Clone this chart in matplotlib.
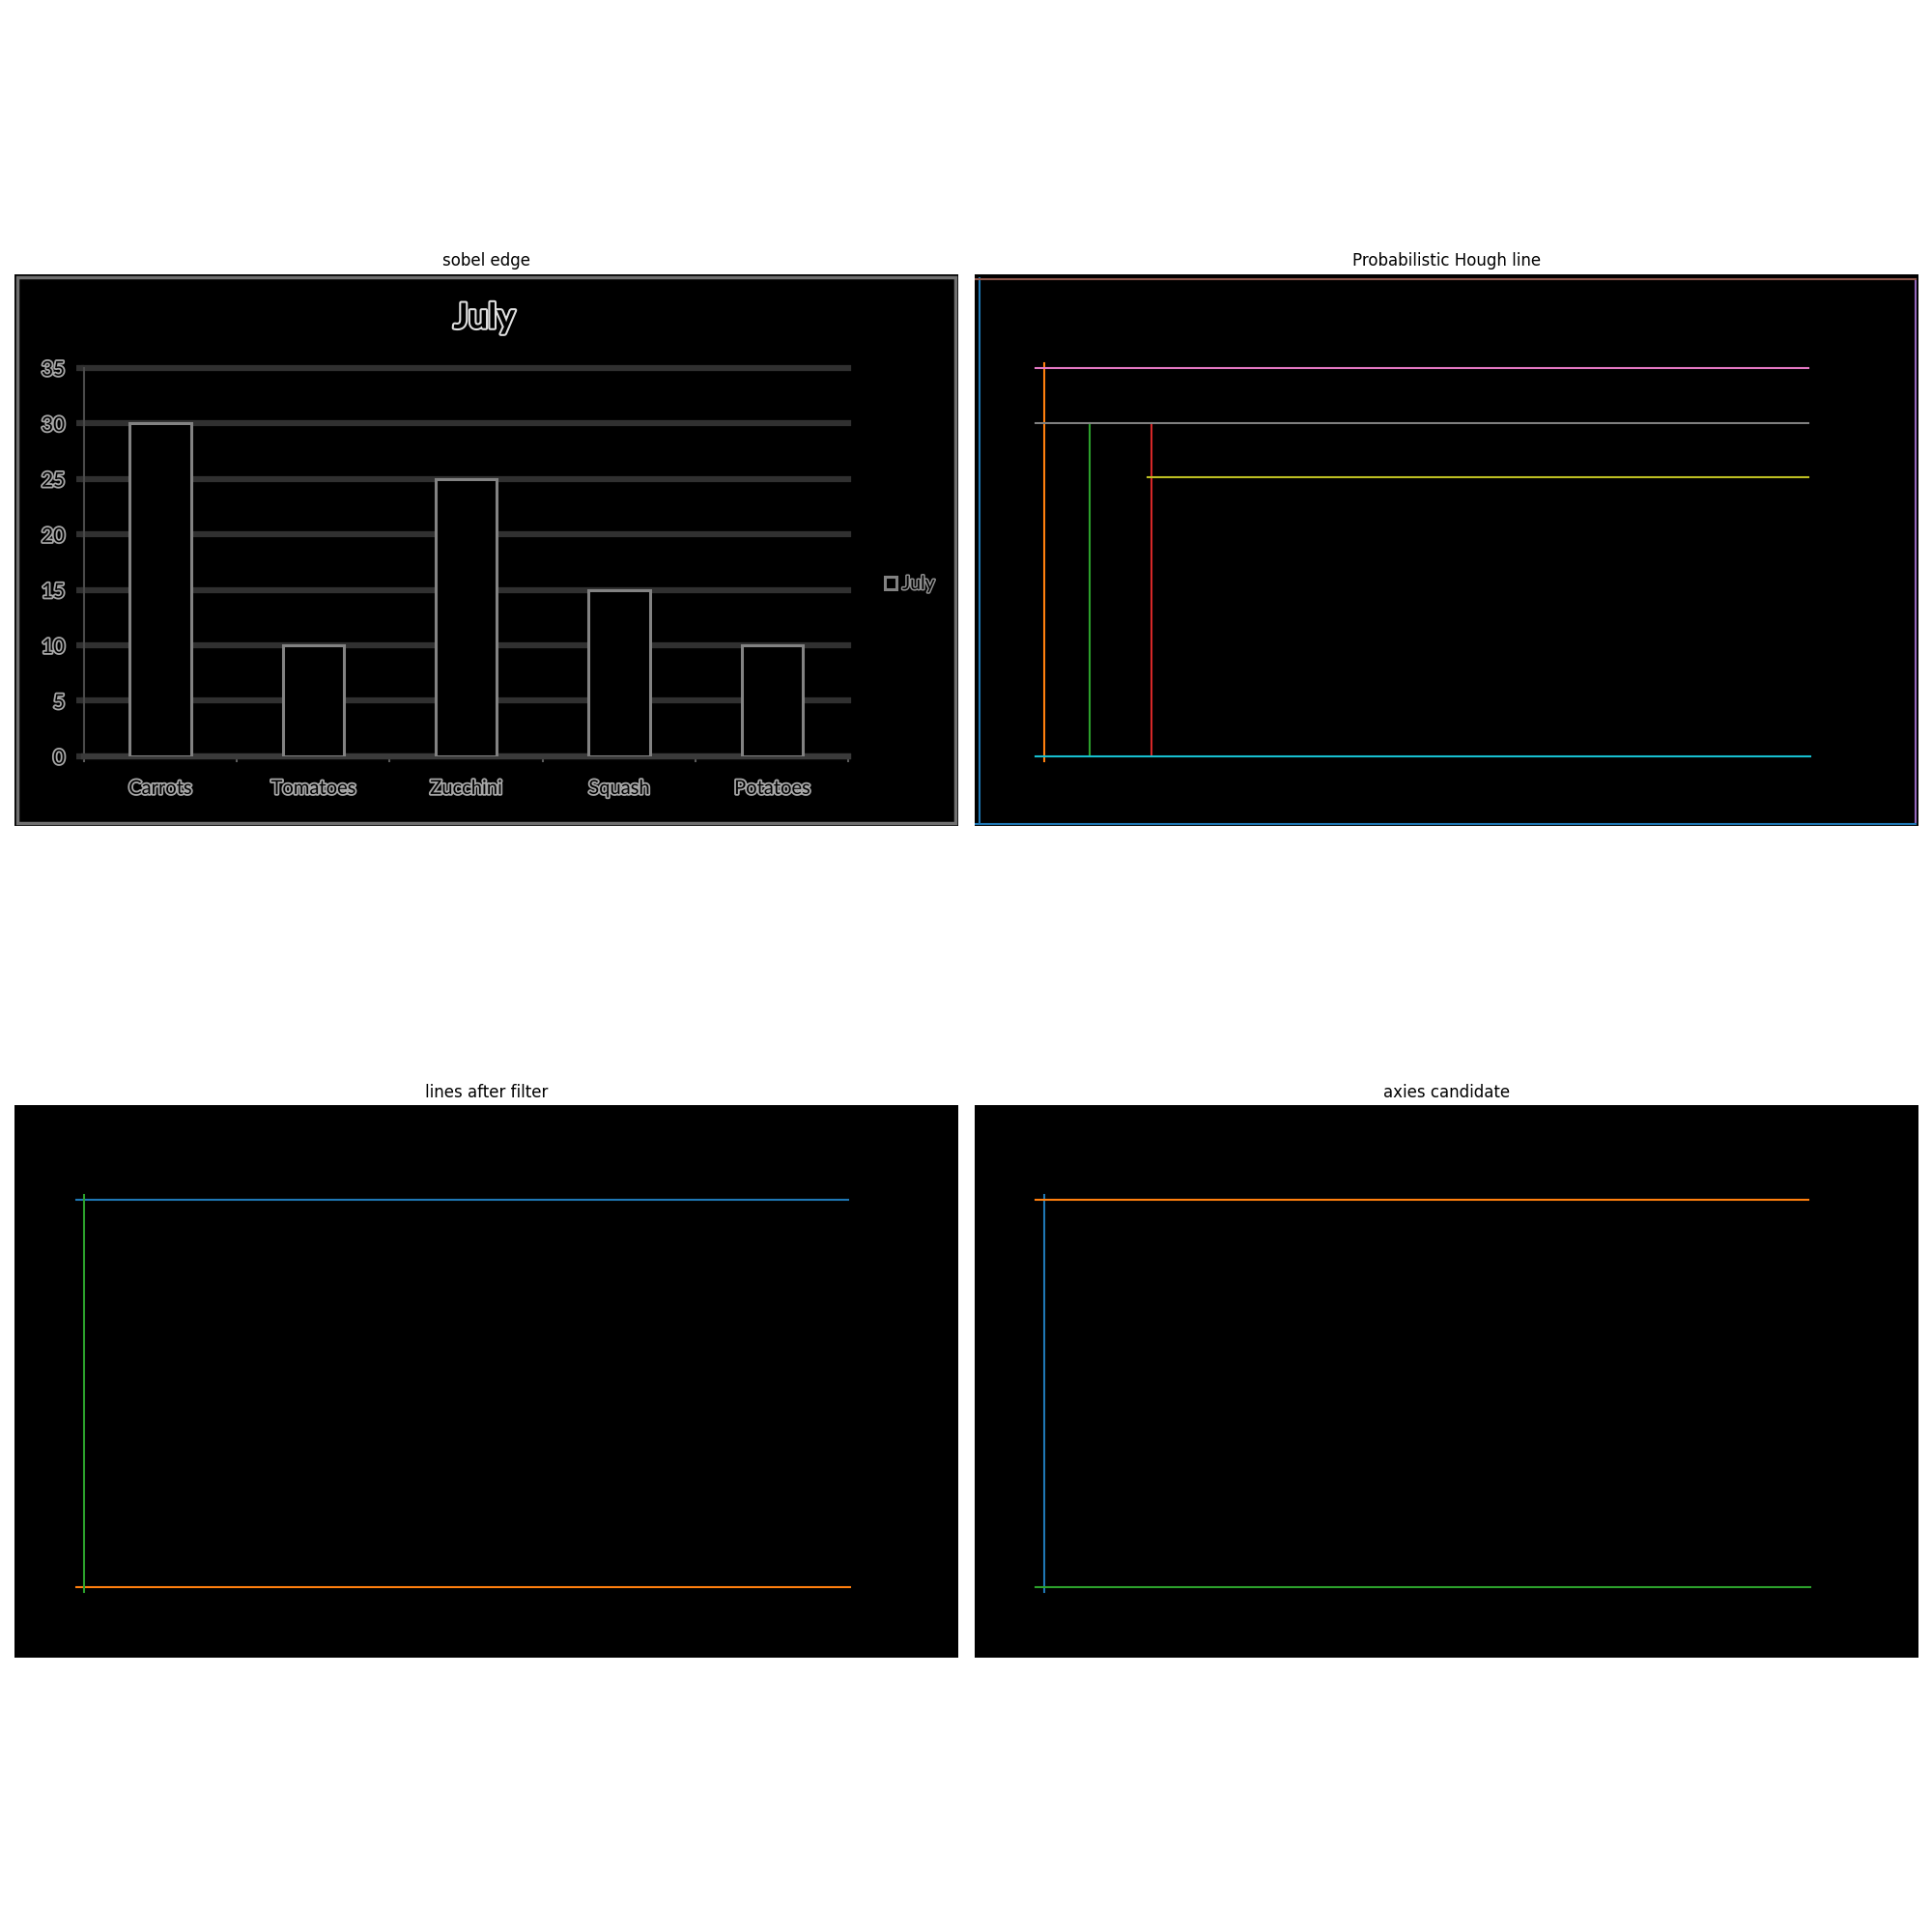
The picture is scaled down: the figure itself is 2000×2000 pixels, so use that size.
import matplotlib.pyplot as plt
import matplotlib.patheffects as pe
from matplotlib.patches import Rectangle

# source image size (pixels)
W, H = 600, 351

# bar chart seen in the sobel edge image
categories = ["Carrots", "Tomatoes", "Zucchini", "Squash", "Potatoes"]
july_values = [30, 10, 25, 15, 10]
y_ticks = [0, 5, 10, 15, 20, 25, 30, 35]

# detected segments (x1, y1, x2, y2) in image pixels
hough_lines = [
    (3.5, 3, 3.5, 349),
    (44.5, 57, 44.5, 309.5),
    (73.3, 94.5, 73.3, 306),
    (112.5, 94.5, 112.5, 306),
    (598, 3.5, 598, 349),
    (0.5, 3.5, 598, 3.5),
    (39, 60, 530, 60),
    (39, 94.5, 530, 94.5),
    (110, 129, 530, 129),
    (39, 306.5, 531, 306.5),
    (0.5, 349.3, 598, 349.3),
]
filtered_lines = [
    (39, 60, 530, 60),
    (39, 306.5, 531, 306.5),
    (44.5, 57, 44.5, 309.5),
]
axis_lines = [
    (44.5, 57, 44.5, 309.5),
    (39, 60, 530, 60),
    (39, 306.5, 531, 306.5),
]


def image_axes(ax, title):
    ax.set_facecolor("black")
    ax.set_xlim(0, W)
    ax.set_ylim(H, 0)
    ax.set_aspect("equal")
    ax.set_xticks([])
    ax.set_yticks([])
    for s in ax.spines.values():
        s.set_visible(False)
    ax.set_title(title)


def edge_text(txt, color="#a8a8a8", lw=2.6):
    txt.set_color("black")
    txt.set_path_effects([pe.withStroke(linewidth=lw, foreground=color)])


fig, axes = plt.subplots(2, 2, figsize=(20, 20), dpi=100)
fig.subplots_adjust(left=0.0075, right=0.993, wspace=0.0164,
                    top=0.91525, bottom=0.085, hspace=0.0756)
ax1, ax2, ax3, ax4 = axes.ravel()

# --- sobel edge panel ---
image_axes(ax1, "sobel edge")
ax1.add_patch(Rectangle((2, 2), W - 4, H - 4, fill=False, ec="#707070", lw=2.5))

x0, x1, y_top, y_base = 44, 530, 59.7, 306.5
inner = ax1.inset_axes([x0 / W, 1 - y_base / H, (x1 - x0) / W, (y_base - y_top) / H])
inner.set_facecolor("none")
bars = inner.bar(range(len(categories)), july_values, width=0.4, facecolor="black",
                 edgecolor="#828282", linewidth=2.2, zorder=3, label="July")
inner.set_xlim(-0.5, len(categories) - 0.5)
inner.set_ylim(0, 35)
inner.set_yticks(y_ticks)
inner.set_yticklabels([str(v) for v in y_ticks], fontfamily="Lato", fontsize=15)
inner.yaxis.grid(True, color="#303030", linewidth=4.5)
for gl in inner.get_ygridlines():
    gl.set_clip_on(False)
inner.set_axisbelow(True)
inner.tick_params(axis="y", length=6, width=4.5, color="#303030", pad=8)
inner.set_xticks(range(len(categories)))
inner.set_xticklabels(categories, fontfamily="Lato", fontsize=14.5)
inner.set_xticks([i - 0.5 for i in range(len(categories) + 1)], minor=True)
inner.tick_params(axis="x", which="major", length=0, pad=18)
inner.tick_params(axis="x", which="minor", length=4, width=1.5, color="#5a5a5a")
for side in ["top", "right"]:
    inner.spines[side].set_visible(False)
inner.spines["left"].set_color("#4a4a4a")
inner.spines["left"].set_linewidth(1.5)
inner.spines["bottom"].set_color("#3a3a3a")
inner.spines["bottom"].set_linewidth(4.5)
for lab in inner.get_xticklabels() + inner.get_yticklabels():
    edge_text(lab)

leg = inner.legend(loc="center left", bbox_to_anchor=(1.037, 0.444), frameon=False,
                   prop={"family": "Lato", "size": 14}, handlelength=0.65, handleheight=0.65,
                   handletextpad=0.3, borderaxespad=0)
for t in leg.get_texts():
    edge_text(t, "#909090", 2.2)

title_txt = ax1.text(W / 2 - 1.5, 28, "July", ha="center", va="center",
                     fontfamily="Lato", fontsize=26, fontweight="bold")
edge_text(title_txt, "#e0e0e0", 3)

# --- line panels ---
for ax, title, segs in [(ax2, "Probabilistic Hough line", hough_lines),
                        (ax3, "lines after filter", filtered_lines),
                        (ax4, "axies candidate", axis_lines)]:
    image_axes(ax, title)
    for xa, ya, xb, yb in segs:
        ax.plot([xa, xb], [ya, yb])

plt.savefig("out.png")
